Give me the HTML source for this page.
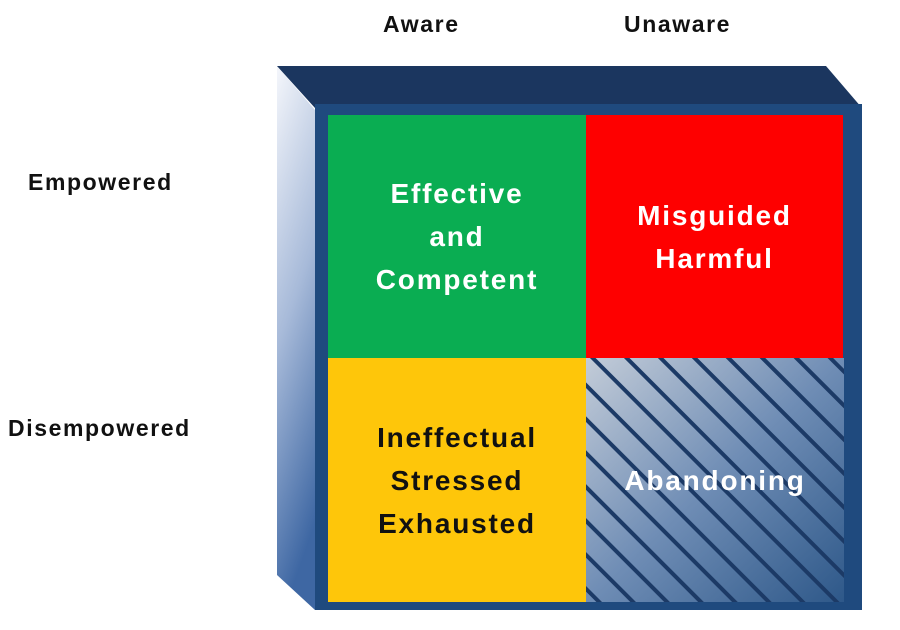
<!DOCTYPE html>
<html><head><style>
body{margin:0;width:900px;height:630px;background:#fff;overflow:hidden;font-family:"Liberation Sans",sans-serif}
.l{position:absolute;font-weight:bold;font-size:23px;letter-spacing:1.6px;color:#111;white-space:nowrap}
.q{position:absolute;display:flex;align-items:center;justify-content:center;text-align:center;font-weight:bold;font-size:28px;letter-spacing:1.8px;line-height:43px}
</style></head><body>
<div class="l" style="left:383px;top:11px">Aware</div>
<div class="l" style="left:624px;top:11px">Unaware</div>
<div class="l" style="left:28px;top:169px">Empowered</div>
<div class="l" style="left:8px;top:415px">Disempowered</div>
<svg width="900" height="630" style="position:absolute;left:0;top:0">
<defs>
<linearGradient id="side" x1="0" y1="0" x2="0.2" y2="1">
<stop offset="0" stop-color="#f4f6fb"/><stop offset="0.5" stop-color="#a7bad9"/><stop offset="1" stop-color="#3e67a3"/></linearGradient>
<linearGradient id="hat" x1="0" y1="0" x2="1" y2="1">
<stop offset="0" stop-color="#c3ccd8"/><stop offset="0.5" stop-color="#6f8db5"/><stop offset="1" stop-color="#2e5889"/></linearGradient>
<pattern id="st" width="24" height="24" patternUnits="userSpaceOnUse" patternTransform="rotate(45)">
<rect x="0" y="0" width="24" height="4" fill="#1c3a66"/></pattern>
<clipPath id="cq"><rect x="586" y="358" width="258" height="244"/></clipPath>
</defs>
<polygon points="277,66 315,110 315,610 277,575" fill="url(#side)"/>
<polygon points="277,66 826,66 862,108 315,108" fill="#1b365f"/>
<rect x="315" y="104" width="547" height="506" fill="#1f4a7e"/>
<rect x="328" y="115" width="258" height="243" fill="#0aad52"/>
<rect x="586" y="115" width="257" height="243" fill="#fe0000"/>
<rect x="328" y="358" width="258" height="244" fill="#fec60a"/>
<rect x="586" y="358" width="258" height="244" fill="url(#hat)"/>
<rect x="586" y="358" width="258" height="244" fill="url(#st)" clip-path="url(#cq)"/>
</svg>
<div class="q" style="left:328px;top:115px;width:258px;height:243px;color:#fff">Effective<br>and<br>Competent</div>
<div class="q" style="left:586px;top:115px;width:257px;height:243px;color:#fff">Misguided<br>Harmful</div>
<div class="q" style="left:328px;top:358px;width:258px;height:244px;color:#111">Ineffectual<br>Stressed<br>Exhausted</div>
<div class="q" style="left:586px;top:358px;width:258px;height:244px;color:#fff">Abandoning</div>
</body></html>
